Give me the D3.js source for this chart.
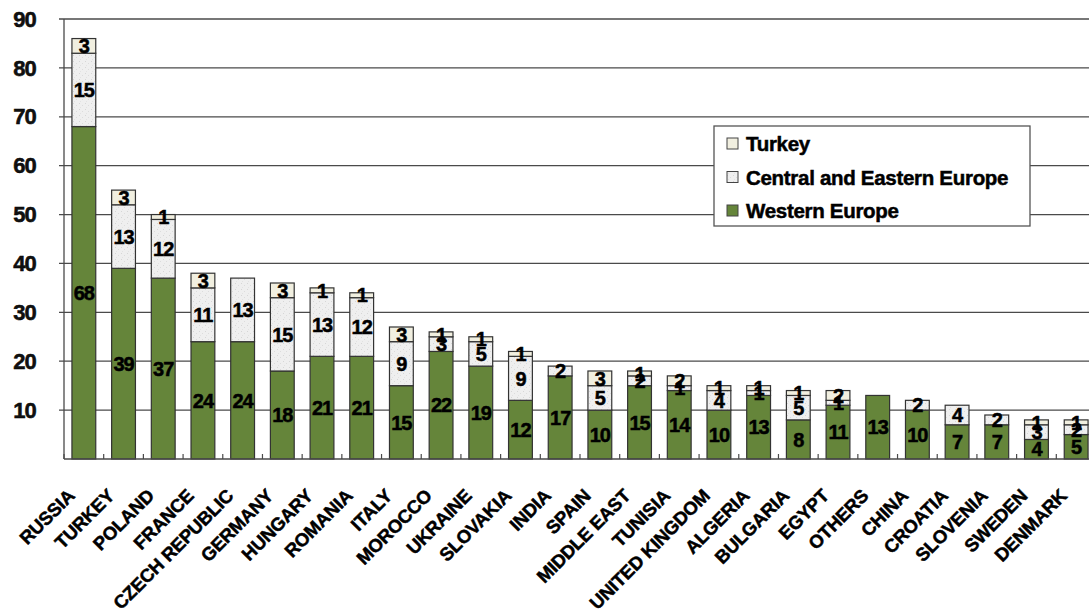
<!DOCTYPE html>
<html>
<head>
<meta charset="utf-8">
<script src="https://cdn.jsdelivr.net/npm/d3@7"></script>
<style>
  body { margin: 0; background: #fff; }
  svg { display: block; font-family: Arial, "Liberation Sans", sans-serif; }
  text { stroke: #000; stroke-width: 0.5px; }
</style>
</head>
<body>
<div id="chart"></div>
<script>
// categories, left to right
var countries = ["RUSSIA", "TURKEY", "POLAND", "FRANCE", "CZECH REPUBLIC", "GERMANY",
  "HUNGARY", "ROMANIA", "ITALY", "MOROCCO", "UKRAINE", "SLOVAKIA", "INDIA", "SPAIN",
  "MIDDLE EAST", "TUNISIA", "UNITED KINGDOM", "ALGERIA", "BULGARIA", "EGYPT", "OTHERS",
  "CHINA", "CROATIA", "SLOVENIA", "SWEDEN", "DENMARK"];

// series values (stacked bottom to top)
var westernEurope = [68, 39, 37, 24, 24, 18, 21, 21, 15, 22, 19, 12, 17, 10, 15, 14, 10, 13, 8, 11, 13, 10, 7, 7, 4, 5];
var centralEastern = [15, 13, 12, 11, 13, 15, 13, 12, 9, 3, 5, 9, 2, 5, 2, 1, 4, 1, 5, 1, 0, 2, 4, 2, 3, 2];
var turkey = [3, 3, 1, 3, 0, 3, 1, 1, 3, 1, 1, 1, 0, 3, 1, 2, 1, 1, 1, 2, 0, 0, 0, 0, 1, 1];

var yTicks = [10, 20, 30, 40, 50, 60, 70, 80, 90];

var seriesNames = ["Western Europe", "Central and Eastern Europe", "Turkey"];
var seriesValues = [westernEurope, centralEastern, turkey];

var width = 1089, height = 613;

var svg = d3.select("#chart").append("svg")
  .attr("width", width)
  .attr("height", height);

// speckled fill for the CEE segment
var defs = svg.append("defs");
var pat = defs.append("pattern")
  .attr("id", "speckle")
  .attr("patternUnits", "userSpaceOnUse")
  .attr("width", 6).attr("height", 6);
pat.append("rect").attr("width", 6).attr("height", 6).attr("fill", "#efefef");
pat.append("rect").attr("x", 1).attr("y", 1).attr("width", 1).attr("height", 1).attr("fill", "#d6d6d6");
pat.append("rect").attr("x", 4).attr("y", 3).attr("width", 1).attr("height", 1).attr("fill", "#dcdcdc");
pat.append("rect").attr("x", 2).attr("y", 5).attr("width", 1).attr("height", 1).attr("fill", "#e2e2e2");

var colors = { "Western Europe": "#65853a", "Central and Eastern Europe": "url(#speckle)", "Turkey": "#f1efe0" };

var x = d3.scaleBand()
  .domain(countries)
  .range([64, 1096])
  .paddingInner(0.4)
  .paddingOuter(0.2);

var y = d3.scaleLinear()
  .domain([0, 90])
  .range([459, 19]);

// build table for the stack
var table = countries.map(function(c, i) {
  var row = { country: c };
  seriesNames.forEach(function(s, k) { row[s] = seriesValues[k][i]; });
  return row;
});

var stacked = d3.stack().keys(seriesNames)(table);

// gridlines
svg.append("g")
  .selectAll("line")
  .data(yTicks)
  .enter().append("line")
  .attr("x1", 59)
  .attr("x2", width)
  .attr("y1", function(d) { return y(d); })
  .attr("y2", function(d) { return y(d); })
  .attr("stroke", "#4a4a4a")
  .attr("stroke-width", 1.3);

// y tick labels
svg.append("g")
  .selectAll("text")
  .data(yTicks)
  .enter().append("text")
  .attr("x", 36)
  .attr("y", function(d) { return y(d); })
  .attr("dy", "0.35em")
  .attr("text-anchor", "end")
  .attr("font-size", "22px")
  .attr("font-weight", "bold")
  .attr("letter-spacing", "-0.8px")
  .attr("fill", "#111")
  .text(function(d) { return d; });

// y axis line
svg.append("line")
  .attr("x1", 64).attr("x2", 64)
  .attr("y1", y(90)).attr("y2", y(0))
  .attr("stroke", "#4a4a4a").attr("stroke-width", 1.3);

// bars
var layer = svg.append("g").selectAll("g")
  .data(stacked)
  .enter().append("g")
  .attr("fill", function(d) { return colors[d.key]; });

layer.selectAll("rect")
  .data(function(d) { return d.filter(function(s) { return s[1] - s[0] > 0; }); })
  .enter().append("rect")
  .attr("x", function(d) { return x(d.data.country); })
  .attr("y", function(d) { return y(d[1]); })
  .attr("width", x.bandwidth())
  .attr("height", function(d) { return y(d[0]) - y(d[1]); })
  .attr("stroke", "#333")
  .attr("stroke-width", 1.2);

// segment labels
stacked.forEach(function(series) {
  svg.append("g").selectAll("text")
    .data(series.filter(function(s) { return s[1] - s[0] > 0; }))
    .enter().append("text")
    .attr("x", function(d) { return x(d.data.country) + x.bandwidth() / 2; })
    .attr("y", function(d) { return y((d[0] + d[1]) / 2); })
    .attr("dy", "0.36em")
    .attr("text-anchor", "middle")
    .attr("font-size", "20px")
    .attr("font-weight", "bold")
    .attr("letter-spacing", "-1px")
    .attr("fill", "#000")
    .text(function(d) { return d[1] - d[0]; });
});

// baseline and category ticks
svg.append("line")
  .attr("x1", 64).attr("x2", width)
  .attr("y1", y(0)).attr("y2", y(0))
  .attr("stroke", "#4a4a4a").attr("stroke-width", 1.5);

svg.append("g").selectAll("line")
  .data(countries)
  .enter().append("line")
  .attr("x1", function(d) { return x(d) - x.step() * x.paddingInner() / 2; })
  .attr("x2", function(d) { return x(d) - x.step() * x.paddingInner() / 2; })
  .attr("y1", y(0))
  .attr("y2", y(0) - 5)
  .attr("stroke", "#4a4a4a")
  .attr("stroke-width", 1.2);

// category labels
svg.append("g").selectAll("text")
  .data(countries)
  .enter().append("text")
  .attr("transform", function(d) {
    return "translate(" + (x(d) + x.bandwidth() / 2 - 8) + ",497) rotate(-45)";
  })
  .attr("text-anchor", "end")
  .attr("font-size", "18.5px")
  .attr("font-weight", "bold")
  .attr("letter-spacing", "-0.2px")
  .attr("fill", "#000")
  .text(function(d) { return d; });

// legend
var legend = svg.append("g");
legend.append("rect")
  .attr("x", 714).attr("y", 126)
  .attr("width", 316).attr("height", 100)
  .attr("fill", "#fff")
  .attr("stroke", "#555")
  .attr("stroke-width", 1.3);

var legendItems = ["Turkey", "Central and Eastern Europe", "Western Europe"];
legendItems.forEach(function(name, i) {
  var cy = 144 + i * 33.5;
  legend.append("rect")
    .attr("x", 727).attr("y", cy - 6)
    .attr("width", 11).attr("height", 11)
    .attr("fill", colors[name])
    .attr("stroke", "#444")
    .attr("stroke-width", 1);
  legend.append("text")
    .attr("x", 746).attr("y", cy)
    .attr("dy", "0.36em")
    .attr("font-size", "20.5px")
    .attr("font-weight", "bold")
    .attr("letter-spacing", "-0.3px")
    .attr("fill", "#000")
    .text(name);
});
</script>
</body>
</html>
